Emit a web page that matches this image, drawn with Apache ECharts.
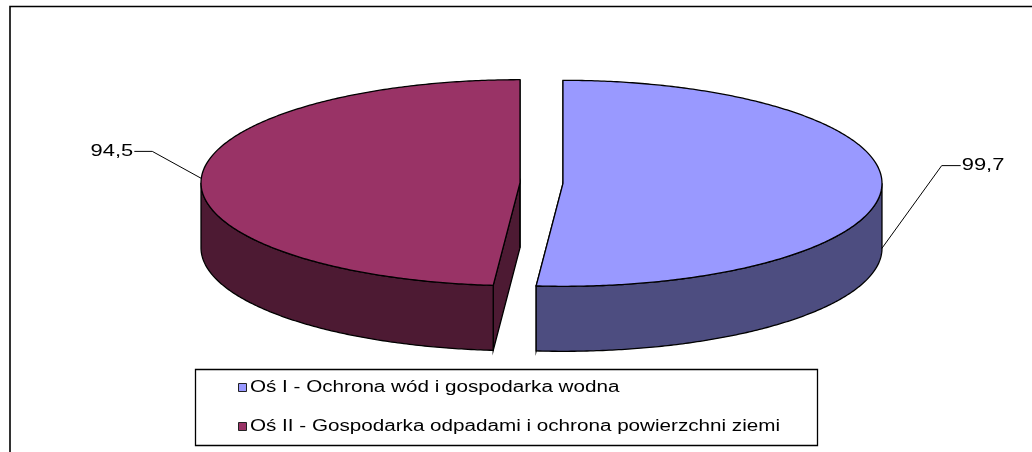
<!DOCTYPE html>
<html>
<head>
<meta charset="utf-8">
<script src="https://cdn.jsdelivr.net/npm/echarts@6/dist/echarts.min.js"></script>
<style>
  html, body { margin: 0; padding: 0; background: #fff; }
  #chart { width: 1032px; height: 452px; }
</style>
</head>
<body>
<div id="chart"></div>
<script>
'use strict';

var categories = ['Oś I - Ochrona wód i gospodarka wodna', 'Oś II - Gospodarka odpadami i ochrona powierzchni ziemi'];
var values = [99.7, 94.5];
var valueLabels = ['99,7', '94,5'];
var topColors = ['#9999ff', '#993366'];
var sideColors = ['#4d4d80', '#4d1a33'];

// layout of the fake 3d pie
var pie = { cx: 541.5, cy: 183, rx: 319, ry: 103, depth: 65, explode: 21.5 };
// leader lines: how far down the wall they start, elbow offset, horizontal tail
var leaders = [
    { drop: 61, elbow: [60, -83], tail: 19 },
    { drop: 0, elbow: [-49, -27], tail: -18 }
];
var LABEL_FONT = '17px "Liberation Sans", Arial, sans-serif';
var LEGEND_FONT = '16px "Liberation Sans", Arial, sans-serif';
var STRETCH = 1.29; // the original is stretched sideways

var total = values.reduce(function (a, b) { return a + b; }, 0);

// angle a in radians, clockwise from 12 o'clock
function pt(a, dx, dy, drop) {
    return [pie.cx + dx + Math.sin(a) * pie.rx, pie.cy + dy - Math.cos(a) * pie.ry + (drop || 0)];
}
function arc(a1, a2, dx, dy, drop) {
    var pts = [];
    var n = Math.max(2, Math.ceil((a2 - a1) / 0.01));
    for (var i = 0; i <= n; i++) {
        pts.push(pt(a1 + (a2 - a1) * i / n, dx, dy, drop));
    }
    return pts;
}

function renderSlice(params, api) {
    var i = params.dataIndex;
    var before = 0;
    for (var k = 0; k < i; k++) before += values[k];
    var a1 = before / total * 2 * Math.PI;
    var a2 = (before + api.value(0)) / total * 2 * Math.PI;
    var mid = (a1 + a2) / 2;
    var dx = Math.sin(mid) * pie.explode;
    var dy = -Math.cos(mid) * pie.explode * pie.ry / pie.rx;
    var c = [pie.cx + dx, pie.cy + dy];
    var children = [];

    // cut walls
    [a1, a2].forEach(function (a) {
        var e = pt(a, dx, dy);
        children.push({
            type: 'polygon',
            shape: { points: [c, e, [e[0], e[1] + pie.depth], [c[0], c[1] + pie.depth]] },
            style: { fill: sideColors[i], stroke: '#000', lineWidth: 1.3 }
        });
    });

    // outer wall, only the front half shows
    var f1 = Math.max(a1, Math.PI / 2);
    var f2 = Math.min(a2, Math.PI * 1.5);
    if (f2 > f1) {
        var upper = arc(f1, f2, dx, dy, 0);
        var lower = arc(f1, f2, dx, dy, pie.depth).reverse();
        children.push({
            type: 'polygon',
            shape: { points: upper.concat(lower) },
            style: { fill: sideColors[i], stroke: '#000', lineWidth: 1.3 }
        });
    }

    // top face
    children.push({
        type: 'polygon',
        shape: { points: [c].concat(arc(a1, a2, dx, dy, 0)) },
        style: { fill: topColors[i], stroke: '#000', lineWidth: 1.3 }
    });

    // value label with leader line
    var ld = leaders[i];
    var p0 = pt(mid, dx, dy, ld.drop);
    var p1 = [p0[0] + ld.elbow[0], p0[1] + ld.elbow[1]];
    var p2 = [p1[0] + ld.tail, p1[1]];
    children.push({
        type: 'polyline',
        shape: { points: [p0, p1, p2] },
        style: { stroke: '#000', lineWidth: 1, fill: null }
    });
    var right = ld.tail > 0;
    children.push({
        type: 'text',
        x: p2[0] + (right ? 1 : -1),
        y: p2[1],
        scaleX: STRETCH,
        style: {
            text: valueLabels[i],
            font: LABEL_FONT,
            fill: '#000',
            align: right ? 'left' : 'right',
            verticalAlign: 'middle'
        }
    });

    return { type: 'group', children: children };
}

// legend box drawn by hand so the text can be stretched like the original
var legendItems = [];
legendItems.push({
    type: 'rect',
    shape: { x: 195.5, y: 369.5, width: 622, height: 76 },
    style: { fill: '#fff', stroke: '#000', lineWidth: 1.3 }
});
var legendRows = [388, 427];
categories.forEach(function (name, i) {
    legendItems.push({
        type: 'rect',
        shape: { x: 238.5, y: legendRows[i] - 4.5, width: 8, height: 8 },
        style: { fill: topColors[i], stroke: '#222', lineWidth: 1 }
    });
    legendItems.push({
        type: 'text',
        x: 250,
        y: legendRows[i],
        scaleX: STRETCH,
        style: { text: name, font: LEGEND_FONT, fill: '#000', verticalAlign: 'middle' }
    });
});

var chart = echarts.init(document.getElementById('chart'));
chart.setOption({
    animation: false,
    backgroundColor: '#fff',
    graphic: [
        {
            type: 'polyline',
            shape: { points: [[10, 460], [10, 6.5], [1040, 6.5]] },
            style: { stroke: '#000', lineWidth: 1.6, fill: null },
            z: 0
        },
        { type: 'group', children: legendItems, z: 10 }
    ],
    series: [
        {
            type: 'custom',
            coordinateSystem: 'none',
            silent: true,
            renderItem: renderSlice,
            data: values.map(function (v) { return [v]; })
        }
    ]
});
</script>
</body>
</html>
